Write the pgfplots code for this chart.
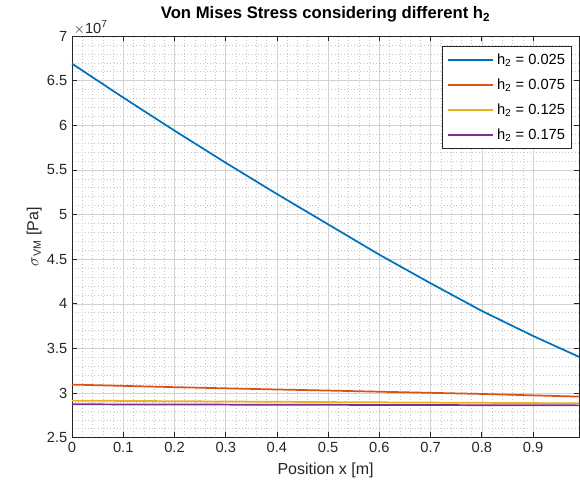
\documentclass[border=0pt]{standalone}
\usepackage{pgfplots}
\pgfplotsset{compat=1.18}
\usepackage{fontspec}
\setmainfont{Liberation Sans}
\definecolor{mblue}{rgb}{0,0.447,0.741}
\definecolor{morange}{rgb}{0.85,0.325,0.098}
\definecolor{myellow}{rgb}{0.929,0.694,0.125}
\definecolor{mpurple}{rgb}{0.494,0.184,0.556}
\definecolor{axgray}{rgb}{0.15,0.15,0.15}
\begin{document}
\begin{tikzpicture}
\begin{axis}[
  scale only axis,
  width=380pt, height=301pt,
  xmin=0, xmax=0.99, ymin=2.5, ymax=7,
  xtick={0,0.1,...,0.9},
  xticklabels={0,0.1,0.2,0.3,0.4,0.5,0.6,0.7,0.8,0.9},
  ytick={2.5,3,3.5,4,4.5,5,5.5,6,6.5,7},
  yticklabels={2.5,3,3.5,4,4.5,5,5.5,6,6.5,7},
  minor x tick num=4, minor y tick num=4,
  tick align=inside, major tick length=4pt, minor tick length=0pt,
  grid=both,
  major grid style={gray!35, line width=0.4pt},
  minor grid style={gray!45, dotted, line width=0.4pt},
  axis line style={axgray, line width=0.5pt},
  tick style={axgray, line width=0.5pt},
  every tick label/.append style={font=\fontsize{11}{13}\selectfont, text=axgray},
  /pgf/number format/assume math mode=true,
  title={\textbf{Von Mises Stress considering different h\textsubscript{2}}},
  title style={font=\fontsize{12.5}{15}\selectfont, at={(0.5,1)}, anchor=south, yshift=1pt},
  xlabel={Position x [m]},
  ylabel={$\sigma$\textsubscript{VM} [Pa]},
  xlabel style={font=\fontsize{12}{14}\selectfont, text=axgray, yshift=-1pt},
  ylabel style={font=\fontsize{12}{14}\selectfont, text=axgray, yshift=-3pt},
  legend style={at={(0.986,0.975)}, anchor=north east, draw=axgray, line width=0.5pt,
    font=\fontsize{11}{13}\selectfont, row sep=5.2pt, inner xsep=3pt, inner ysep=3.5pt,
    legend cell align=left},
  legend image code/.code={\draw[#1, line width=1.5pt] (0cm,0cm) -- (1.2cm,0cm);},
  clip=false,
]
\addplot[mblue, line width=1.3pt] coordinates {
(0,6.69) (0.1,6.31) (0.2,5.94) (0.3,5.58) (0.4,5.23) (0.5,4.89)
(0.6,4.55) (0.7,4.23) (0.8,3.92) (0.9,3.64) (0.99,3.405)};
\addlegendentry{h\textsubscript{2} = 0.025}
\addplot[morange, line width=1.3pt] coordinates {
(0,3.095) (0.2,3.066) (0.4,3.04) (0.5,3.028) (0.6,3.015) (0.8,2.99) (0.99,2.96)};
\addlegendentry{h\textsubscript{2} = 0.075}
\addplot[myellow, line width=1.3pt] coordinates {
(0,2.915) (0.5,2.899) (0.99,2.885)};
\addlegendentry{h\textsubscript{2} = 0.125}
\addplot[mpurple, line width=1.3pt] coordinates {
(0,2.874) (0.5,2.868) (0.99,2.862)};
\addlegendentry{h\textsubscript{2} = 0.175}
\node[anchor=south west, inner sep=1pt, font=\fontsize{11}{13}\selectfont, text=axgray] at (rel axis cs:0,1) {$\times$10\textsuperscript{7}};
\coordinate (bl) at (rel axis cs:0,0);
\coordinate (tr) at (rel axis cs:1,1);
\end{axis}
\path ([xshift=-54pt,yshift=-40pt]bl) rectangle ([yshift=27pt]tr);
\end{tikzpicture}
\end{document}
